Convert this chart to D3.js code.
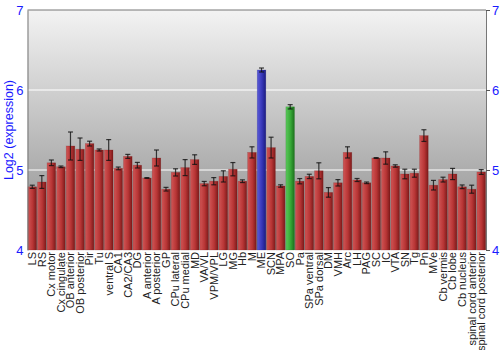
<!DOCTYPE html>
<html><head><meta charset="utf-8">
<script src="https://cdn.jsdelivr.net/npm/d3@7"></script>
<style>body{margin:0;background:#fff}svg{display:block}text{font-family:"Liberation Sans",Arial,sans-serif}</style>
</head><body><svg id="c" width="500" height="350"></svg>
<script>
const categories=["LS","RS","Cx motor","Cx cingulate","OB anterior","OB posterior","Pir","Tu","ventral S","CA1","CA2/CA3","DG","A anterior","A posterior","GP","CPu lateral","CPu medial","MD","VA/VL","VPM/VPL","LG","MG","Hb","M","ME","SCN","MPA","SO","Pa","SPa ventral","SPa dorsal","DM","VMH","Arc","LH","PAG","SC","IC","VTA","SN","Tg","Pn","MVe","Cb vermis","Cb lobe","Cb nucleus","spinal cord anterior","spinal cord posterior"];
const values=[4.79,4.85,5.09,5.04,5.30,5.26,5.33,5.25,5.25,5.02,5.17,5.06,4.90,5.15,4.76,4.97,5.03,5.13,4.83,4.86,4.92,5.01,4.86,5.22,6.25,5.28,4.80,5.79,4.86,4.92,4.99,4.72,4.84,5.22,4.875,4.84,5.15,5.15,5.05,4.95,4.96,5.43,4.81,4.88,4.95,4.79,4.76,4.975];
const errors=[0.02,0.08,0.035,0.01,0.175,0.14,0.03,0.013,0.13,0.017,0.025,0.035,0.005,0.10,0.023,0.045,0.1,0.06,0.027,0.045,0.07,0.083,0.017,0.07,0.025,0.13,0.015,0.027,0.033,0.027,0.10,0.06,0.04,0.07,0.019,0.01,0.005,0.077,0.015,0.06,0.05,0.073,0.06,0.03,0.07,0.023,0.05,0.03];
const groups=categories.map(c=>c==="ME"?"blue":c==="SO"?"green":"red");
const yTicks=[4,5,6,7];

const svg=d3.select("#c");
const L=27.5,R=486,T=10,B=250;
const x=d3.scaleBand().domain(categories).range([L,R]).paddingInner(0.1).paddingOuter(0.05);
const y=d3.scaleLinear().domain([4,7]).range([B,T]);
const defs=svg.append("defs");
const bg=defs.append("linearGradient").attr("id","bg").attr("x1",0).attr("y1",0).attr("x2",0).attr("y2",1);
bg.append("stop").attr("offset","0%").attr("stop-color","#f3f3f3");
bg.append("stop").attr("offset","100%").attr("stop-color","#8a8a8a");
const cols={red:["#d05555","#b83535","#7c1a1a"],blue:["#5a5ad8","#3636b8","#1c1c80"],green:["#5ac85a","#36a836","#1c701c"]};
Object.entries(cols).forEach(([k,c])=>{
  const g=defs.append("linearGradient").attr("id","g"+k).attr("x1",0).attr("x2",1).attr("y1",0).attr("y2",0);
  g.append("stop").attr("offset","0%").attr("stop-color",c[0]);
  g.append("stop").attr("offset","55%").attr("stop-color",c[1]);
  g.append("stop").attr("offset","100%").attr("stop-color",c[2]);
});
svg.append("rect").attr("x",L).attr("y",T).attr("width",R-L).attr("height",B-T).attr("fill","url(#bg)");
svg.append("g").selectAll("line").data([5,6]).join("line")
  .attr("x1",L).attr("x2",R).attr("y1",d=>y(d)).attr("y2",d=>y(d))
  .attr("stroke","#fff").attr("stroke-width",d=>d===6?1.5:1.2).attr("stroke-opacity",d=>d===6?0.7:1);
svg.append("g").selectAll("rect").data(categories).join("rect")
  .attr("x",d=>x(d)).attr("width",x.bandwidth())
  .attr("y",(d,i)=>y(values[i])).attr("height",(d,i)=>B-y(values[i]))
  .attr("fill",(d,i)=>"url(#g"+groups[i]+")").attr("stroke",(d,i)=>cols[groups[i]][2]).attr("stroke-opacity",0.35).attr("stroke-width",0.6);
const eg=svg.append("g").attr("stroke","#111").attr("stroke-width",1.2).attr("stroke-opacity",0.8);
categories.forEach((c,i)=>{
  const cx=x(c)+x.bandwidth()/2, y1=y(values[i]+errors[i]), y2=y(values[i]-errors[i]);
  eg.append("line").attr("x1",cx).attr("x2",cx).attr("y1",y1).attr("y2",y2);
  eg.append("line").attr("x1",cx-2.5).attr("x2",cx+2.5).attr("y1",y1).attr("y2",y1);
  eg.append("line").attr("x1",cx-2.5).attr("x2",cx+2.5).attr("y1",y2).attr("y2",y2);
});
svg.append("line").attr("x1",L).attr("x2",R).attr("y1",T).attr("y2",T).attr("stroke","#777");
const la=svg.append("g").attr("transform",`translate(${L},0)`).call(d3.axisLeft(y).tickValues(yTicks).tickSize(0).tickPadding(4).tickFormat(d3.format("d")));
la.select(".domain").attr("stroke","#777");
la.selectAll("text").attr("fill","#1a1aff").attr("font-size",13);
const ra=svg.append("g").attr("transform",`translate(${R},0)`).call(d3.axisRight(y).tickValues(yTicks).tickSize(4).tickPadding(2).tickFormat(d3.format("d")));
ra.select(".domain").attr("stroke","#777");
ra.selectAll("line").attr("stroke","#555");
ra.selectAll("text").attr("fill","#1a1aff").attr("font-size",13);
const xa=svg.append("g").attr("transform",`translate(0,${B})`).call(d3.axisBottom(x).tickSize(0).tickPadding(0));
xa.select(".domain").remove();
xa.selectAll("text").attr("font-size",11).attr("fill","#222").attr("text-anchor","end")
  .attr("transform","rotate(-90)").attr("x",-2).attr("y",0).attr("dy","0.35em").attr("dx",0);
svg.append("text").attr("transform",`translate(13,${(T+B)/2}) rotate(-90)`).attr("text-anchor","middle")
  .attr("fill","#1a1aff").attr("font-size",12.5).text("Log2 (expression)");
</script></body></html>
